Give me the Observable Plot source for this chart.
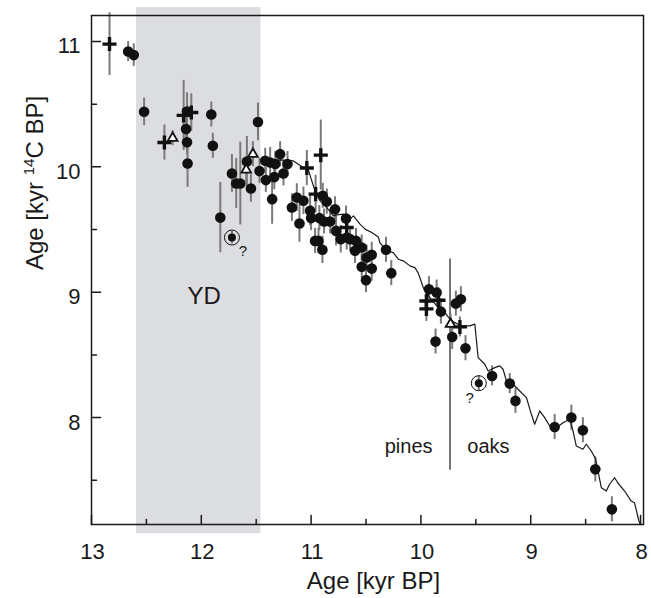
<!DOCTYPE html>
<html>
<head>
<meta charset="utf-8">
<script src="https://cdn.jsdelivr.net/npm/d3@7"></script>
<script src="https://cdn.jsdelivr.net/npm/@observablehq/plot@0.6"></script>
<style>
  html, body { margin: 0; padding: 0; background: #fff; }
  #chart { width: 651px; height: 598px; }
</style>
</head>
<body>
<div id="chart"></div>
<script>
// ---------- data ----------
// calibrated age [kyr BP] vs 14C age [kyr 14C BP]
const dotAge = [12.666, 12.615, 12.521, 12.13, 12.139, 12.13, 12.125, 11.909, 11.895, 11.484,
  11.721, 11.682, 11.645, 11.827, 11.585, 11.548, 11.47, 11.418, 11.373, 11.327,
  11.282, 11.412, 11.335, 11.252, 11.215, 11.355, 11.13, 11.175, 11.07, 11.106,
  11.009, 11.0, 10.894, 10.857, 10.925, 10.882, 10.827, 10.782, 10.964, 10.933,
  10.897, 10.773, 10.682, 10.73, 10.676, 10.645, 10.591, 10.6, 10.539, 10.494,
  10.448, 10.539, 10.448, 10.5, 10.318, 10.27, 9.927, 9.857, 9.818, 9.682,
  9.636, 9.715, 9.867, 9.594, 9.352, 9.191, 9.139, 8.782, 8.63, 8.525,
  8.412, 8.261];
const dotC14 = [10.92, 10.891, 10.439, 10.441, 10.301, 10.196, 10.026, 10.417, 10.168, 10.358,
  9.947, 9.867, 9.867, 9.595, 10.042, 9.827, 9.966, 10.048, 10.034, 10.022,
  10.101, 9.894, 9.918, 9.947, 10.022, 9.742, 9.755, 9.675, 9.729, 9.548,
  9.649, 9.591, 9.769, 9.723, 9.591, 9.564, 9.564, 9.662, 9.409, 9.409,
  9.338, 9.489, 9.587, 9.423, 9.436, 9.423, 9.409, 9.33, 9.356, 9.276,
  9.298, 9.202, 9.188, 9.096, 9.338, 9.152, 9.024, 8.997, 8.845, 8.909,
  8.944, 8.643, 8.606, 8.553, 8.332, 8.271, 8.133, 7.925, 8.0, 7.899,
  7.587, 7.268];
const dotErr = [0.08, 0.09, 0.11, 0.15, 0.1, 0.1, 0.19, 0.1, 0.1, 0.15,
  0.15, 0.2, 0.33, 0.28, 0.2, 0.11, 0.1, 0.1, 0.12, 0.1,
  0.1, 0.1, 0.1, 0.1, 0.1, 0.2, 0.11, 0.11, 0.11, 0.15,
  0.12, 0.1, 0.1, 0.1, 0.1, 0.1, 0.1, 0.1, 0.1, 0.1,
  0.11, 0.12, 0.1, 0.11, 0.1, 0.1, 0.1, 0.1, 0.1, 0.1,
  0.1, 0.1, 0.1, 0.1, 0.1, 0.1, 0.1, 0.1, 0.1, 0.1,
  0.1, 0.1, 0.1, 0.1, 0.08, 0.08, 0.1, 0.1, 0.1, 0.1,
  0.1, 0.1];

const crossAge = [12.836, 12.336, 12.161, 12.091, 11.039, 10.912, 10.959, 10.676, 9.95, 9.95, 9.84, 9.645];
const crossC14 = [10.979, 10.194, 10.41, 10.433, 9.99, 10.093, 9.782, 9.516, 8.93, 8.867, 8.936, 8.723];
const crossErr = [0.25, 0.14, 0.28, 0.15, 0.14, 0.28, 0.15, 0.1, 0.1, 0.1, 0.1, 0.08];

const triAge = [12.261, 11.53, 11.591, 9.73];
const triC14 = [10.229, 10.101, 9.976, 8.745];
const triErr = [0.06, 0.1, 0.1, 0.08];

// uncertain (circled, "?") samples
const circAge = [11.721, 9.473];
const circC14 = [9.436, 8.274];
const circErr = [0.05, 0.06];

// calibration curve
const curveAge = [11.445, 11.373, 11.282, 11.164, 11.073, 11.027, 10.994, 10.964, 10.918, 10.857,
  10.797, 10.766, 10.706, 10.645, 10.615, 10.555, 10.509, 10.448, 10.388, 10.373,
  10.312, 10.252, 10.206, 10.161, 10.1, 10.055, 10.025, 9.994, 9.979, 9.918,
  9.843, 9.782, 9.736, 9.691, 9.63, 9.555, 9.509, 9.494, 9.479, 9.418,
  9.388, 9.327, 9.282, 9.252, 9.221, 9.161, 9.1, 9.039, 8.994, 8.964,
  8.918, 8.873, 8.827, 8.766, 8.706, 8.645, 8.615, 8.585, 8.525, 8.494,
  8.448, 8.409, 8.388, 8.357, 8.312, 8.282, 8.236, 8.206, 8.145, 8.085,
  8.055, 8.015, 8.003];
const curveC14 = [10.072, 10.048, 10.056, 10.048, 9.994, 9.982, 9.888, 9.808, 9.728, 9.675,
  9.609, 9.617, 9.622, 9.585, 9.609, 9.543, 9.503, 9.476, 9.441, 9.393,
  9.329, 9.316, 9.263, 9.25, 9.21, 9.196, 9.154, 9.077, 9.037, 8.957,
  8.877, 8.837, 8.785, 8.757, 8.731, 8.731, 8.745, 8.611, 8.478, 8.425,
  8.372, 8.398, 8.412, 8.385, 8.292, 8.266, 8.212, 8.159, 8.026, 7.947,
  8.053, 7.999, 7.933, 7.919, 7.959, 7.987, 7.893, 7.773, 7.747, 7.787,
  7.733, 7.67, 7.574, 7.441, 7.414, 7.468, 7.52, 7.478, 7.414, 7.334,
  7.321, 7.175, 7.15];

// Younger Dryas band
const ydFrom = 12.59, ydTo = 11.457, ydLow = 7.074, ydHigh = 11.27;
// pines / oaks boundary
const boundaryAge = 9.735, boundaryLow = 7.58, boundaryHigh = 9.265;
const labels = [
  {text: "YD", x: 11.973, y: 8.904},
  {text: "pines", x: 10.112, y: 7.715},
  {text: "oaks", x: 9.385, y: 7.715}
];

const xDomain = [13, 7.973];
const yDomain = [7.147, 11.207];
const xMajor = [13, 12, 11, 10, 9, 8];
const xMinor = [12.5, 11.5, 10.5, 9.5, 8.5];
const yMajor = [8, 9, 10, 11];
const yMinor = [7.5, 8.5, 9.5, 10.5];
const xTitle = "Age [kyr BP]";
const yTitle = "Age [kyr 14C BP]";

// ---------- build ----------
const mk = (ax, ay, ae) => ax.map((x, i) => ({x, y: ay[i], e: ae[i]}));
const dots = mk(dotAge, dotC14, dotErr);
const crosses = mk(crossAge, crossC14, crossErr);
const tris = mk(triAge, triC14, triErr);
const circs = mk(circAge, circC14, circErr);
const curve = curveAge.map((x, i) => ({x, y: curveC14[i]}));
const allErr = [...dots, ...crosses, ...tris, ...circs];

const ink = "#1a1a1a";
const tickShape = {draw(ctx, l) { ctx.moveTo(0, 0); ctx.lineTo(0, -l); }};
const font = "'Liberation Sans', Arial, Helvetica, sans-serif";

const chart = Plot.plot({
  width: 651,
  height: 598,
  marginLeft: 91,
  marginRight: 8,
  marginTop: 15,
  marginBottom: 74,
  x: {domain: xDomain, axis: null},
  y: {domain: yDomain, axis: null},
  style: {fontFamily: font, background: "white", color: ink},
  marks: [
    Plot.rect([{x1: ydFrom, x2: ydTo, y1: ydLow, y2: ydHigh}], {x1: "x1", x2: "x2", y1: "y1", y2: "y2", fill: "#dcdde0"}),
    Plot.text(labels, {x: "x", y: "y", text: "text", lineAnchor: "bottom",
      fontSize: (d) => d.text === "YD" ? 24 : 20, fill: ink}),
    Plot.ruleX([boundaryAge], {x: (d) => d, y1: boundaryLow, y2: boundaryHigh, stroke: ink, strokeWidth: 1.2}),
    Plot.ruleX(allErr, {x: "x", y1: (d) => d.y - d.e, y2: (d) => d.y + d.e, stroke: "#7a7a7a", strokeWidth: 2}),
    Plot.line(curve, {x: "x", y: "y", stroke: ink, strokeWidth: 1.2}),
    Plot.dot(dots, {x: "x", y: "y", r: 5.3, fill: "#111", stroke: "none"}),
    Plot.dot(crosses, {x: "x", y: "y", symbol: "plus", r: 4.6, stroke: "#111", strokeWidth: 3.4, strokeLinecap: "butt"}),
    Plot.dot(tris, {x: "x", y: "y", symbol: "triangle", r: 3.6, fill: "white", stroke: "#111", strokeWidth: 1.8}),
    Plot.dot(circs, {x: "x", y: "y", r: 7.5, fill: "none", stroke: "#111", strokeWidth: 1}),
    Plot.dot(circs, {x: "x", y: "y", r: 4, fill: "#111", stroke: "none"}),
    Plot.text(circs, {x: "x", y: "y", text: () => "?", fontSize: 15, fill: ink}),
    Plot.frame({stroke: ink, strokeWidth: 1.5}),
    Plot.vector(xMajor, {x: (d) => d, y: yDomain[0], length: 9, rotate: 0, anchor: "start", shape: tickShape, stroke: ink, strokeWidth: 1.5}),
    Plot.vector(xMinor, {x: (d) => d, y: yDomain[0], length: 5, rotate: 0, anchor: "start", shape: tickShape, stroke: ink, strokeWidth: 1.5}),
    Plot.vector(yMajor, {x: xDomain[0], y: (d) => d, length: 9, rotate: 90, anchor: "start", shape: tickShape, stroke: ink, strokeWidth: 1.5}),
    Plot.vector(yMinor, {x: xDomain[0], y: (d) => d, length: 5, rotate: 90, anchor: "start", shape: tickShape, stroke: ink, strokeWidth: 1.5}),
    Plot.text(xMajor, {x: (d) => d, y: yDomain[0], text: (d) => String(d), dy: 34, dx: 1, lineAnchor: "bottom", fontSize: 22, fill: ink}),
    Plot.text(yMajor, {x: xDomain[0], y: (d) => d, text: (d) => String(d), dx: -11, dy: 12, textAnchor: "end", lineAnchor: "bottom", fontSize: 22, fill: ink}),
    Plot.text([xTitle], {frameAnchor: "bottom", dy: 64, dx: 6, lineAnchor: "bottom", fontSize: 24, fill: ink}),
    Plot.text([yTitle], {frameAnchor: "left", dx: -56, rotate: -90, fontSize: 24, fill: ink})
  ]
});

// "?" placement: first to the lower right, second to the lower left
d3.select(chart).selectAll("text").filter(function () { return this.textContent === "?"; })
  .each(function (d, i) {
    const t = d3.select(this);
    const tr = t.attr("transform") || "";
    t.attr("transform", tr + (i === 0 ? " translate(11,14)" : " translate(-9,15)"));
  });

// superscript 14 in the y title
d3.select(chart).selectAll("text").filter(function () { return this.textContent === yTitle; })
  .each(function () {
    const t = d3.select(this);
    t.text(null);
    t.append("tspan").text("Age [kyr ");
    t.append("tspan").attr("dy", -9).attr("font-size", 15).text("14");
    t.append("tspan").attr("dy", 9).text("C BP]");
  });

document.getElementById("chart").appendChild(chart);
</script>
</body>
</html>
